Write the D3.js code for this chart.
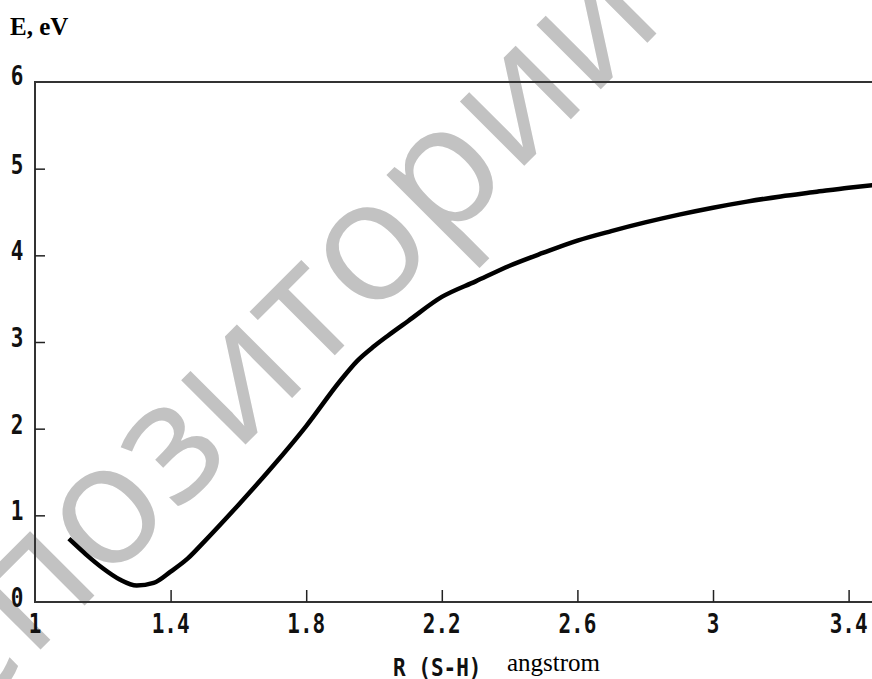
<!DOCTYPE html>
<html>
<head>
<meta charset="utf-8">
<script src="https://cdn.jsdelivr.net/npm/d3@7"></script>
<style>
  body { margin: 0; background: #fff; overflow: hidden; }
  .tick-label { font-family: "DejaVu Sans Mono", monospace; font-weight: bold; font-size: 21px; fill: #111; }
</style>
</head>
<body>
<div class="chart"></div>
<script>
// potential energy curve S-H
var rValues = [1.10, 1.15, 1.20, 1.25, 1.30, 1.35, 1.40, 1.45, 1.50, 1.60, 1.70, 1.80, 1.90, 1.95, 2.00, 2.04, 2.10, 2.20, 2.30, 2.40, 2.50, 2.60, 2.70, 2.80, 2.90, 3.00, 3.10, 3.20, 3.30, 3.40, 3.47];
var eValues = [0.73, 0.55, 0.39, 0.26, 0.19, 0.22, 0.35, 0.50, 0.70, 1.12, 1.56, 2.03, 2.55, 2.78, 2.95, 3.07, 3.24, 3.52, 3.70, 3.88, 4.03, 4.17, 4.28, 4.38, 4.47, 4.55, 4.62, 4.68, 4.73, 4.78, 4.81];
var xTicks = [1, 1.4, 1.8, 2.2, 2.6, 3, 3.4];
var yTicks = [0, 1, 2, 3, 4, 5, 6];

var svg_width = 872,
    svg_height = 679,
    svg = d3.select('.chart').append('svg').attr('width', svg_width).attr('height', svg_height),
    margin = {top: 82, left: 35, bottom: 77};

var x = d3.scaleLinear().domain([1, 3.469]).range([margin.left, svg_width]);
var y = d3.scaleLinear().domain([0, 6]).range([svg_height - margin.bottom, margin.top]);

// watermark
svg.append('text')
  .attr('transform', 'translate(278,412) rotate(-45)')
  .attr('text-anchor', 'middle')
  .style('font-family', '"Open Sans", "Noto Sans", sans-serif')
  .style('font-size', '170px')
  .style('fill', '#c2c2c2')
  .text('репозиторий');

// frame (right side falls outside the picture)
svg.append('rect')
  .attr('x', x(1)).attr('y', y(6))
  .attr('width', x(3.6) - x(1)).attr('height', y(0) - y(6))
  .attr('fill', 'none').attr('stroke', '#333').attr('stroke-width', 2);

// ticks
svg.append('g')
  .attr('transform', 'translate(0,' + y(0) + ')')
  .call(d3.axisBottom(x).tickValues(xTicks.slice(1)).tickSizeInner(-12).tickSizeOuter(0).tickFormat(''))
  .call(function(g) { g.select('.domain').remove(); g.selectAll('line').attr('stroke', '#222').attr('stroke-width', 1.5); });

svg.append('g')
  .attr('transform', 'translate(' + x(1) + ',0)')
  .call(d3.axisLeft(y).tickValues(yTicks.slice(1, 6)).tickSizeInner(-10).tickSizeOuter(0).tickFormat(''))
  .call(function(g) { g.select('.domain').remove(); g.selectAll('line').attr('stroke', '#222').attr('stroke-width', 1.5); });

// tick labels (tall narrow bitmap look)
svg.selectAll('.xl').data(xTicks).enter().append('text')
  .attr('class', 'tick-label')
  .attr('text-anchor', 'middle')
  .attr('transform', function(d) { return 'translate(' + x(d) + ',633) scale(1,1.25)'; })
  .text(function(d) { return d; });

svg.selectAll('.yl').data(yTicks).enter().append('text')
  .attr('class', 'tick-label')
  .attr('text-anchor', 'middle')
  .attr('transform', function(d) { return 'translate(17,' + (y(d) + (d === 6 ? 3 : 5)) + ') scale(1,1.25)'; })
  .text(function(d) { return d; });

// axis titles
svg.append('text')
  .attr('x', 10).attr('y', 35)
  .style('font-family', '"Liberation Serif", "Times New Roman", serif')
  .style('font-weight', 'bold').style('font-size', '25px')
  .text('E, eV');

svg.append('text')
  .attr('class', 'tick-label')
  .attr('transform', 'translate(393,676) scale(1,1.2)')
  .text('R (S-H)');

svg.append('text')
  .attr('x', 507).attr('y', 671)
  .style('font-family', '"Liberation Serif", "Times New Roman", serif')
  .style('font-size', '25px')
  .text('angstrom');

// curve
var line = d3.line()
  .x(function(d) { return x(d[0]); })
  .y(function(d) { return y(d[1]); })
  .curve(d3.curveMonotoneX);

svg.append('path')
  .datum(d3.zip(rValues, eValues))
  .attr('d', line)
  .attr('fill', 'none')
  .attr('stroke', '#000')
  .attr('stroke-width', 4.5);
</script>
</body>
</html>
